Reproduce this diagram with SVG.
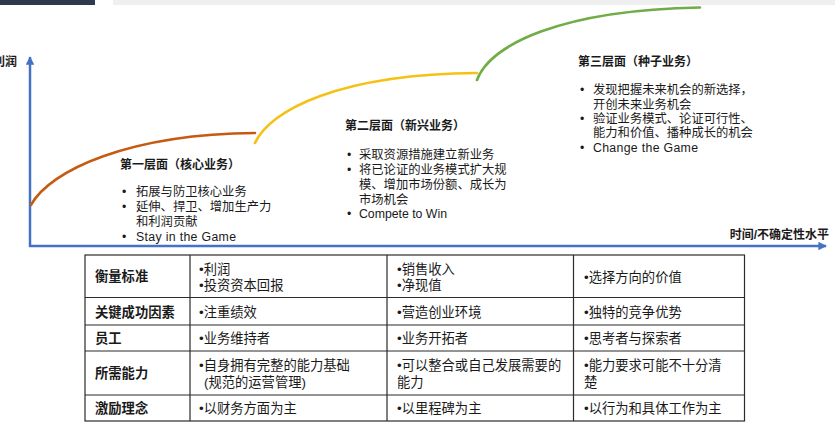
<svg xmlns="http://www.w3.org/2000/svg" width="835" height="423" viewBox="0 0 835 423">
<defs>
<style>
text{font-family:"Liberation Sans","Noto Sans CJK SC",sans-serif;fill:#1a1a1a;}
.t{font-size:12px;font-weight:bold;}
.b{font-size:12.3px;}
.h{font-size:13.3px;font-weight:bold;}
.c{font-size:13.3px;}
.axis{stroke:#4472C4;stroke-width:2.5;fill:none;}
.curve{fill:none;stroke-width:2.6;stroke-linecap:round;}
.grid{stroke:#2b2b2b;stroke-width:1.2;fill:none;}
</style>
<marker id="arr" viewBox="0 0 10 10" refX="9" refY="5" markerWidth="3.4" markerHeight="3.4" orient="auto" markerUnits="strokeWidth">
<path d="M0,0 L10,5 L0,10 Z" fill="#4472C4"/>
</marker>
</defs>
<rect width="835" height="423" fill="#ffffff"/>
<rect x="0" y="0" width="95" height="5" fill="#2e3b4f"/>
<rect x="113" y="0" width="722" height="5" fill="#efefef"/>

<g id="connectors">
<path class="axis" d="M30,247 L30,57" marker-end="url(#arr)"/>
<path class="axis" d="M29,246 L826,246" marker-end="url(#arr)"/>
<path class="curve" stroke="#C55A11" d="M31,205 C50,170 130,134 255,133"/>
<path class="curve" stroke="#F5C117" d="M255,143 C270,110 340,74 477,73"/>
<path class="curve" stroke="#70AD47" d="M477,80 C490,45 560,10 700,7.5"/>
</g>

<g id="axis-labels">
<text class="t" x="17" y="66" text-anchor="end">利润</text>
<text class="t" x="829" y="239" text-anchor="end">时间/不确定性水平</text>
</g>

<g id="tier1">
<text class="t" x="120" y="169">第一层面（核心业务）</text>
<text class="b" x="122" y="196">•</text>
<text class="b" x="136" y="196">拓展与防卫核心业务</text>
<text class="b" x="122" y="211">•</text>
<text class="b" x="136" y="211">延伸、捍卫、增加生产力</text>
<text class="b" x="136" y="226">和利润贡献</text>
<text class="b" x="122" y="241">•</text>
<text class="b" x="136" y="241" textLength="100" lengthAdjust="spacing">Stay in the Game</text>
</g>

<g id="tier2">
<text class="t" x="345" y="130">第二层面（新兴业务）</text>
<text class="b" x="347" y="159">•</text>
<text class="b" x="359" y="159">采取资源措施建立新业务</text>
<text class="b" x="347" y="174">•</text>
<text class="b" x="359" y="174">将已论证的业务模式扩大规</text>
<text class="b" x="359" y="189">模、增加市场份额、成长为</text>
<text class="b" x="359" y="203.5">市场机会</text>
<text class="b" x="347" y="218">•</text>
<text class="b" x="359" y="218" textLength="88" lengthAdjust="spacing">Compete to Win</text>
</g>

<g id="tier3">
<text class="t" x="578" y="66">第三层面（种子业务）</text>
<text class="b" x="580" y="94">•</text>
<text class="b" x="593" y="94">发现把握未来机会的新选择，</text>
<text class="b" x="593" y="108.5">开创未来业务机会</text>
<text class="b" x="580" y="123">•</text>
<text class="b" x="593" y="123">验证业务模式、论证可行性、</text>
<text class="b" x="593" y="137">能力和价值、播种成长的机会</text>
<text class="b" x="580" y="152">•</text>
<text class="b" x="593" y="152" textLength="105" lengthAdjust="spacing">Change the Game</text>
</g>

<g id="table">
<rect class="grid" x="85" y="255" width="659.5" height="166" stroke-width="1.5"/>
<path class="grid" d="M190,255 V421 M387,255 V421 M573.5,255 V421 M85,297.5 H744.5 M85,325 H744.5 M85,351 H744.5 M85,395 H744.5"/>
<g id="row1">
<text class="h" x="95" y="281">衡量标准</text>
<text class="c" x="199" y="274">•利润</text>
<text class="c" x="199" y="290">•投资资本回报</text>
<text class="c" x="397" y="274">•销售收入</text>
<text class="c" x="397" y="290">•净现值</text>
<text class="c" x="584" y="281.5">•选择方向的价值</text>
</g>
<g id="row2">
<text class="h" x="95" y="316.5">关键成功因素</text>
<text class="c" x="199" y="316.5">•注重绩效</text>
<text class="c" x="397" y="316.5">•营造创业环境</text>
<text class="c" x="584" y="316.5">•独特的竞争优势</text>
</g>
<g id="row3">
<text class="h" x="95" y="343">员工</text>
<text class="c" x="199" y="343">•业务维持者</text>
<text class="c" x="397" y="343">•业务开拓者</text>
<text class="c" x="584" y="343">•思考者与探索者</text>
</g>
<g id="row4">
<text class="h" x="95" y="378">所需能力</text>
<text class="c" x="199" y="370">•自身拥有完整的能力基础</text>
<text class="c" x="204" y="387">(规范的运营管理)</text>
<text class="c" x="397" y="370">•可以整合或自己发展需要的</text>
<text class="c" x="397" y="387">能力</text>
<text class="c" x="584" y="369.5">•能力要求可能不十分清</text>
<text class="c" x="584" y="387">楚</text>
</g>
<g id="row5">
<text class="h" x="95" y="413">激励理念</text>
<text class="c" x="199" y="413">•以财务方面为主</text>
<text class="c" x="397" y="413">•以里程碑为主</text>
<text class="c" x="584" y="413">•以行为和具体工作为主</text>
</g>
</g>
</svg>
